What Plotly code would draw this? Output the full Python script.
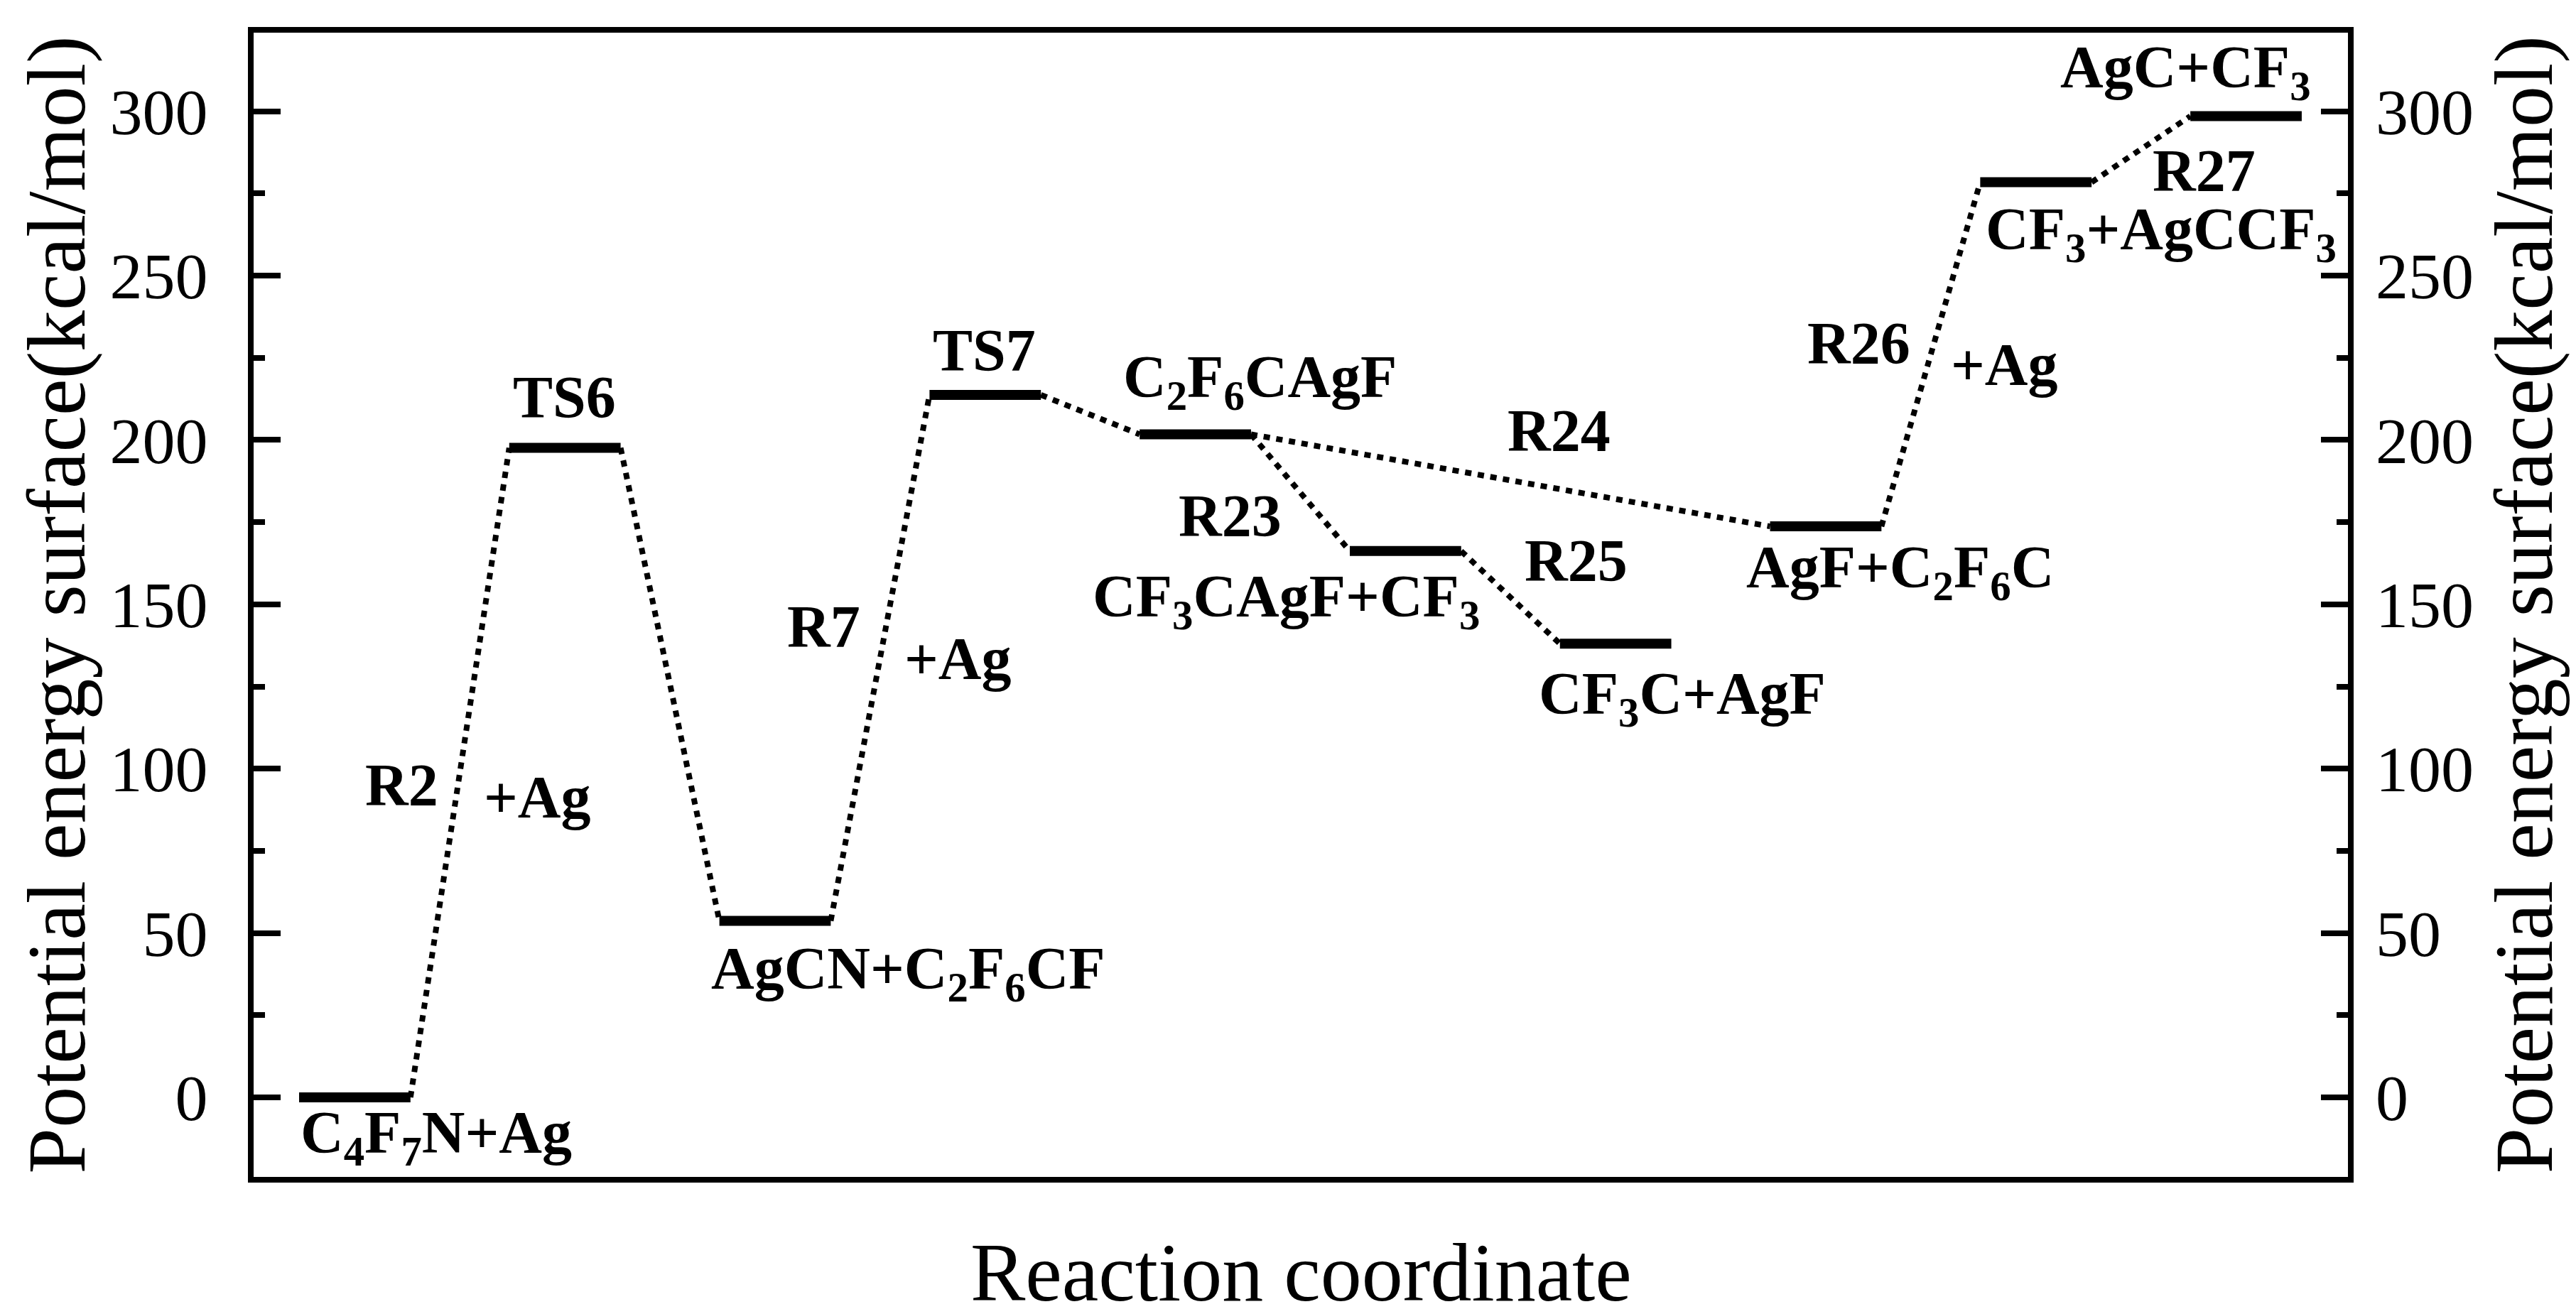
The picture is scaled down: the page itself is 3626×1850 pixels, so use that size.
import plotly.graph_objects as go

# ---- data ----
species = ["C<sub>4</sub>F<sub>7</sub>N+Ag", "TS6", "AgCN+C<sub>2</sub>F<sub>6</sub>CF", "TS7",
           "C<sub>2</sub>F<sub>6</sub>CAgF", "CF<sub>3</sub>CAgF+CF<sub>3</sub>", "CF<sub>3</sub>C+AgF",
           "AgF+C<sub>2</sub>F<sub>6</sub>C", "CF<sub>3</sub>+AgCCF<sub>3</sub>", "AgC+CF<sub>3</sub>"]
positions = [1, 2, 3, 4, 5, 6, 7, 8, 9, 10]
energies = [0, 197.6, 53.7, 213.7, 201.7, 166.2, 138.0, 173.7, 278.4, 298.5]
connections = [(0, 1), (1, 2), (2, 3), (3, 4), (4, 5), (5, 6), (4, 7), (7, 8), (8, 9)]

# label anchor positions (data units): species labels (left-aligned)
species_label_x = [1.0, 2.01, 2.954, 4.01, 4.915, 4.770, 6.893, 7.881, 9.019, 9.374]
species_label_y = [-12.1, 213.0, 37.9, 227.1, 217.7, 151.1, 121.4, 160.0, 262.8, 312.1]

reaction_labels = ["R2", "+Ag", "R7", "+Ag", "R23", "R24", "R25", "R26", "+Ag", "R27"]
reaction_label_x = [1.49, 2.133, 3.498, 4.137, 5.432, 6.994, 7.078, 8.421, 9.117, 10.067]
reaction_label_y = [95.0, 91.3, 143.1, 133.5, 176.8, 202.8, 163.2, 229.4, 222.9, 281.8]

y_ticks = [0, 50, 100, 150, 200, 250, 300]
y_range = [-24.2, 323.9]
x_range = [0.7836, 10.75]
level_width = 0.53

FONT = "Liberation Serif"

fig = go.Figure()

# levels
lx, ly = [], []
for p, e in zip(positions, energies):
    lx += [p, p + level_width, None]
    ly += [e, e, None]
fig.add_trace(go.Scatter(x=lx, y=ly, mode="lines", line=dict(color="black", width=14),
                         showlegend=False, hoverinfo="skip"))

# connectors
cx, cy = [], []
for a, b in connections:
    cx += [positions[a] + level_width, positions[b], None]
    cy += [energies[a], energies[b], None]
fig.add_trace(go.Scatter(x=cx, y=cy, mode="lines", line=dict(color="black", width=8, dash="9px,9px"),
                         showlegend=False, hoverinfo="skip"))

# dummy for right axis
fig.add_trace(go.Scatter(x=[None], y=[None], yaxis="y2", showlegend=False, hoverinfo="skip"))

ann = []
for t, x, y in zip(species, species_label_x, species_label_y):
    ann.append(dict(x=x, y=y, xref="x", yref="y", text="<b>" + t + "</b>", showarrow=False,
                    xanchor="left", yanchor="middle",
                    font=dict(family=FONT, size=84, color="black")))
for t, x, y in zip(reaction_labels, reaction_label_x, reaction_label_y):
    ann.append(dict(x=x, y=y, xref="x", yref="y", text="<b>" + t + "</b>", showarrow=False,
                    xanchor="center", yanchor="middle",
                    font=dict(family=FONT, size=84, color="black")))

title_txt = "Potential energy surface(kcal/mol)"
ann.append(dict(x=-0.094, y=0.5, xref="paper", yref="paper", text=title_txt, textangle=-90,
                showarrow=False, xanchor="center", yanchor="middle",
                font=dict(family=FONT, size=116, color="black")))
ann.append(dict(x=1.084, y=0.5, xref="paper", yref="paper", text=title_txt, textangle=-90,
                showarrow=False, xanchor="center", yanchor="middle",
                font=dict(family=FONT, size=116, color="black")))
ann.append(dict(x=0.5, y=-0.084, xref="paper", yref="paper", text="Reaction coordinate",
                showarrow=False, xanchor="center", yanchor="middle",
                font=dict(family=FONT, size=116, color="black")))

yaxis_common = dict(range=y_range, tickvals=y_ticks, ticks="inside", ticklen=38, tickwidth=8,
                    tickcolor="black", showgrid=False, zeroline=False,
                    tickfont=dict(family=FONT, size=92, color="black"),
                    minor=dict(dtick=25, tick0=25, ticks="inside", ticklen=16, tickwidth=8,
                               tickcolor="black", showgrid=False),
                    ticklabelstandoff=38)

fig.update_layout(
    width=3626, height=1850,
    margin=dict(l=349, r=329, t=38, b=201),
    paper_bgcolor="white", plot_bgcolor="white",
    xaxis=dict(range=x_range, showticklabels=False, ticks="", showgrid=False, zeroline=False,
               showline=True, linewidth=8, linecolor="black", mirror=True),
    yaxis=dict(**yaxis_common, showline=True, linewidth=8, linecolor="black", mirror=True),
    yaxis2=dict(**yaxis_common, overlaying="y", side="right", showline=False),
    annotations=ann,
    showlegend=False,
)

fig.write_html("out.html")
